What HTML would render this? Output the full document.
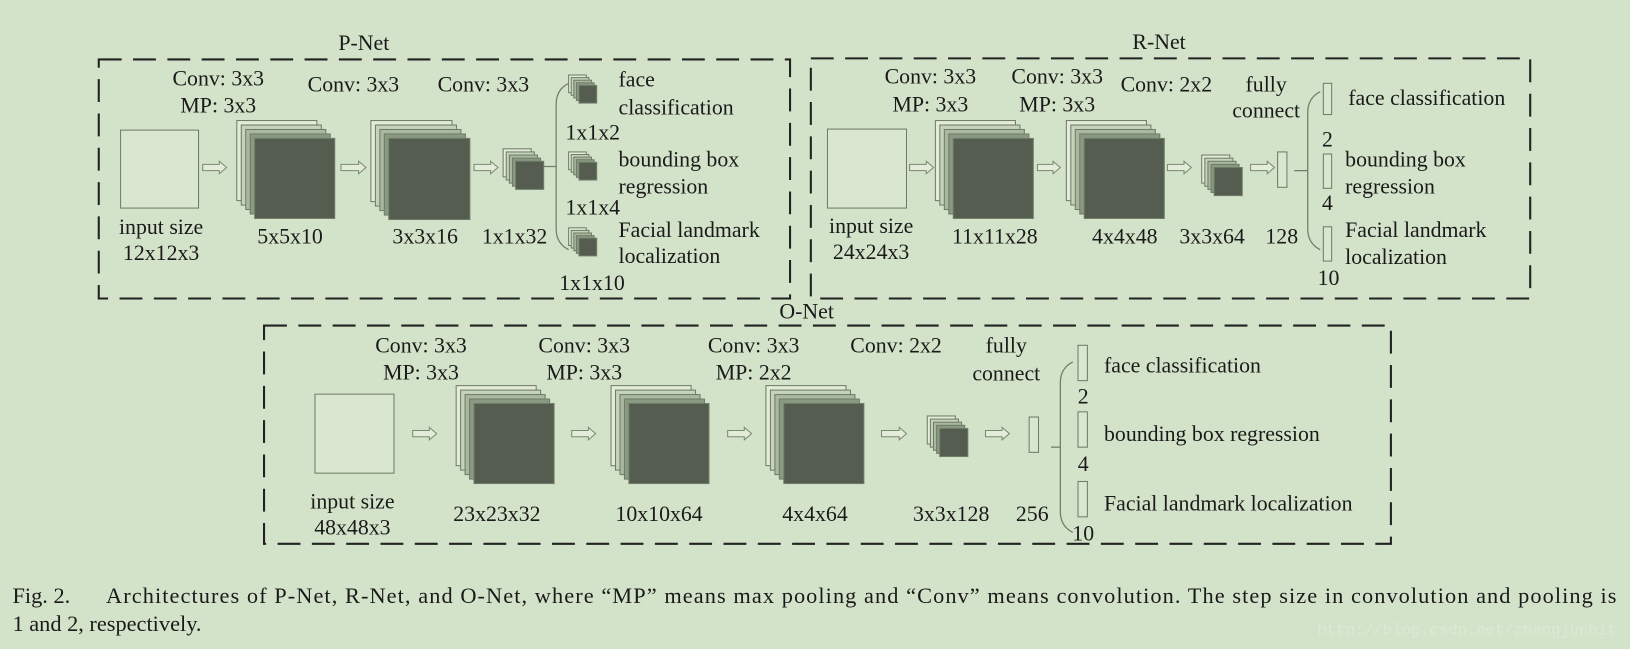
<!DOCTYPE html>
<html><head><meta charset="utf-8"><style>
html,body{margin:0;padding:0;background:#d3e3c9;}
svg{display:block;}
text{font-family:"Liberation Serif",serif;fill:#1a1a1a;}
</style></head><body>
<svg id="s" width="1630" height="649" viewBox="0 0 1568 624" xmlns="http://www.w3.org/2000/svg">
<rect width="1568" height="624" fill="#d3e3c9"/>
<g fill="none" stroke="#222" stroke-width="2" stroke-dasharray="22 11">
<rect x="95" y="57" width="665" height="230"/>
<rect x="780" y="56" width="692" height="231"/>
<rect x="254" y="313" width="1084" height="210"/>
</g>
<g id="g"></g>
<g font-size="21" text-anchor="middle">
<text x="350" y="48">P-Net</text>
<text x="1115" y="47">R-Net</text>
<text x="776" y="306">O-Net</text>
<text x="210" y="82">Conv: 3x3</text><text x="210" y="108">MP: 3x3</text>
<text x="340" y="88">Conv: 3x3</text><text x="465" y="88">Conv: 3x3</text>
<text x="155" y="225">input size</text><text x="155" y="250">12x12x3</text>
<text x="279" y="234">5x5x10</text><text x="409" y="234">3x3x16</text><text x="495" y="234">1x1x32</text>
<text x="895" y="80">Conv: 3x3</text><text x="895" y="107">MP: 3x3</text>
<text x="1017" y="80">Conv: 3x3</text><text x="1017" y="107">MP: 3x3</text>
<text x="1122" y="88">Conv: 2x2</text><text x="1218" y="88">fully</text><text x="1218" y="113">connect</text>
<text x="838" y="224">input size</text><text x="838" y="249">24x24x3</text>
<text x="957" y="234">11x11x28</text><text x="1082" y="234">4x4x48</text><text x="1166" y="234">3x3x64</text><text x="1233" y="234">128</text>
<text x="405" y="339">Conv: 3x3</text><text x="405" y="365">MP: 3x3</text>
<text x="562" y="339">Conv: 3x3</text><text x="562" y="365">MP: 3x3</text>
<text x="725" y="339">Conv: 3x3</text><text x="725" y="365">MP: 2x2</text>
<text x="862" y="339">Conv: 2x2</text><text x="968" y="339">fully</text><text x="968" y="366">connect</text>
<text x="339" y="489">input size</text><text x="339" y="514">48x48x3</text>
<text x="478" y="501">23x23x32</text><text x="634" y="501">10x10x64</text><text x="784" y="501">4x4x64</text><text x="915" y="501">3x3x128</text><text x="993" y="501">256</text>
<text x="1277" y="141">2</text><text x="1277" y="202">4</text><text x="1278" y="274">10</text>
<text x="1042" y="388">2</text><text x="1042" y="453">4</text><text x="1042" y="520">10</text>
</g>
<g font-size="21">
<text x="595" y="83">face</text><text x="595" y="110">classification</text>
<text x="544" y="134">1x1x2</text>
<text x="595" y="160">bounding box</text><text x="595" y="186">regression</text>
<text x="544" y="206">1x1x4</text>
<text x="595" y="228">Facial landmark</text><text x="595" y="253">localization</text>
<text x="538" y="279">1x1x10</text>
<text x="1297" y="101">face classification</text>
<text x="1294" y="160">bounding box</text><text x="1294" y="186">regression</text>
<text x="1294" y="228">Facial landmark</text><text x="1294" y="254">localization</text>
<text x="1062" y="358">face classification</text>
<text x="1062" y="424">bounding box regression</text>
<text x="1062" y="491">Facial landmark localization</text>
</g>
<g font-size="21.5">
<text x="12" y="580">Fig. 2.</text>
<text x="102" y="580" textLength="1453" lengthAdjust="spacing">Architectures of P-Net, R-Net, and O-Net, where “MP” means max pooling and “Conv” means convolution. The step size in convolution and pooling is</text>
<text x="12" y="607">1 and 2, respectively.</text>
</g>
<text x="1555" y="610" font-size="15" text-anchor="end" style="font-family:'Liberation Mono',monospace;fill:#dde8d5">http://blog.csdn.net/zhangjunhit</text>
</svg>
<script>
var g=document.getElementById('g'),h='';
function R(x,y,w,hh,f,s){h+='<rect x="'+x+'" y="'+y+'" width="'+w+'" height="'+hh+'" fill="'+f+'" stroke="'+(s||'#6f7d68')+'" stroke-width="1"/>';}
function stack(x,y,sz,d){var c=['#e3ecd9','#c5d3ba','#a9b89f','#8a9a82','#555c50'];for(var i=4;i>=0;i--){R(x-i*d,y-i*d,sz,sz,c[4-i]);}}
function arr(x0,x1,y){var b=3,hh=6,L=7;h+='<polygon points="'+x0+','+(y-b)+' '+(x1-L)+','+(y-b)+' '+(x1-L)+','+(y-hh)+' '+x1+','+y+' '+(x1-L)+','+(y+hh)+' '+(x1-L)+','+(y+b)+' '+x0+','+(y+b)+'" fill="#e3ecd9" stroke="#7a8a70" stroke-width="1"/>';}
function brace(x,y0,y1,tx){var m=(y0+y1)/2;h+='<path d="M'+(x+12)+','+y0+' Q'+x+','+(y0+6)+' '+x+','+(y0+20)+' L'+x+','+(y1-20)+' Q'+x+','+(y1-6)+' '+(x+12)+','+y1+' M'+tx+','+m+' L'+x+','+m+'" fill="none" stroke="#6f7d68" stroke-width="1.2"/>';}
var IN='#d9e7d0';
R(116,125,75,75,IN);arr(195,218,161);stack(245,133,77,4.3);arr(328,352,161);stack(374,133,78,4.3);arr(456,479,161);stack(496,155,27,3);
brace(535,80,240,523);stack(557,82,17,2.5);stack(557,156,17,2.5);stack(557,229,17,2.5);
R(796,124,76,76,IN);arr(875,898,161);stack(917,133,77,4.3);arr(998,1020,161);stack(1043,133,77,4.3);arr(1123,1146,161);stack(1168,161,27,3);arr(1203,1226,161);R(1229,146,9,34,IN);
brace(1258,88,240,1245);R(1273,80,8,30,IN);R(1273,148,8,33,IN);R(1273,218,8,33,IN);
R(303,379,76,76,IN);arr(397,420,417);stack(456,388,77,4.3);arr(550,573,417);stack(605,388,77,4.3);arr(700,723,417);stack(754,388,77,4.3);arr(848,872,417);stack(904,412,27,3);arr(948,971,417);R(990,401,9,34,IN);
brace(1020,348,512,1011);R(1037,332,9,34,IN);R(1037,396,9,34,IN);R(1037,463,9,34,IN);
g.innerHTML=h;
</script>
</body></html>
